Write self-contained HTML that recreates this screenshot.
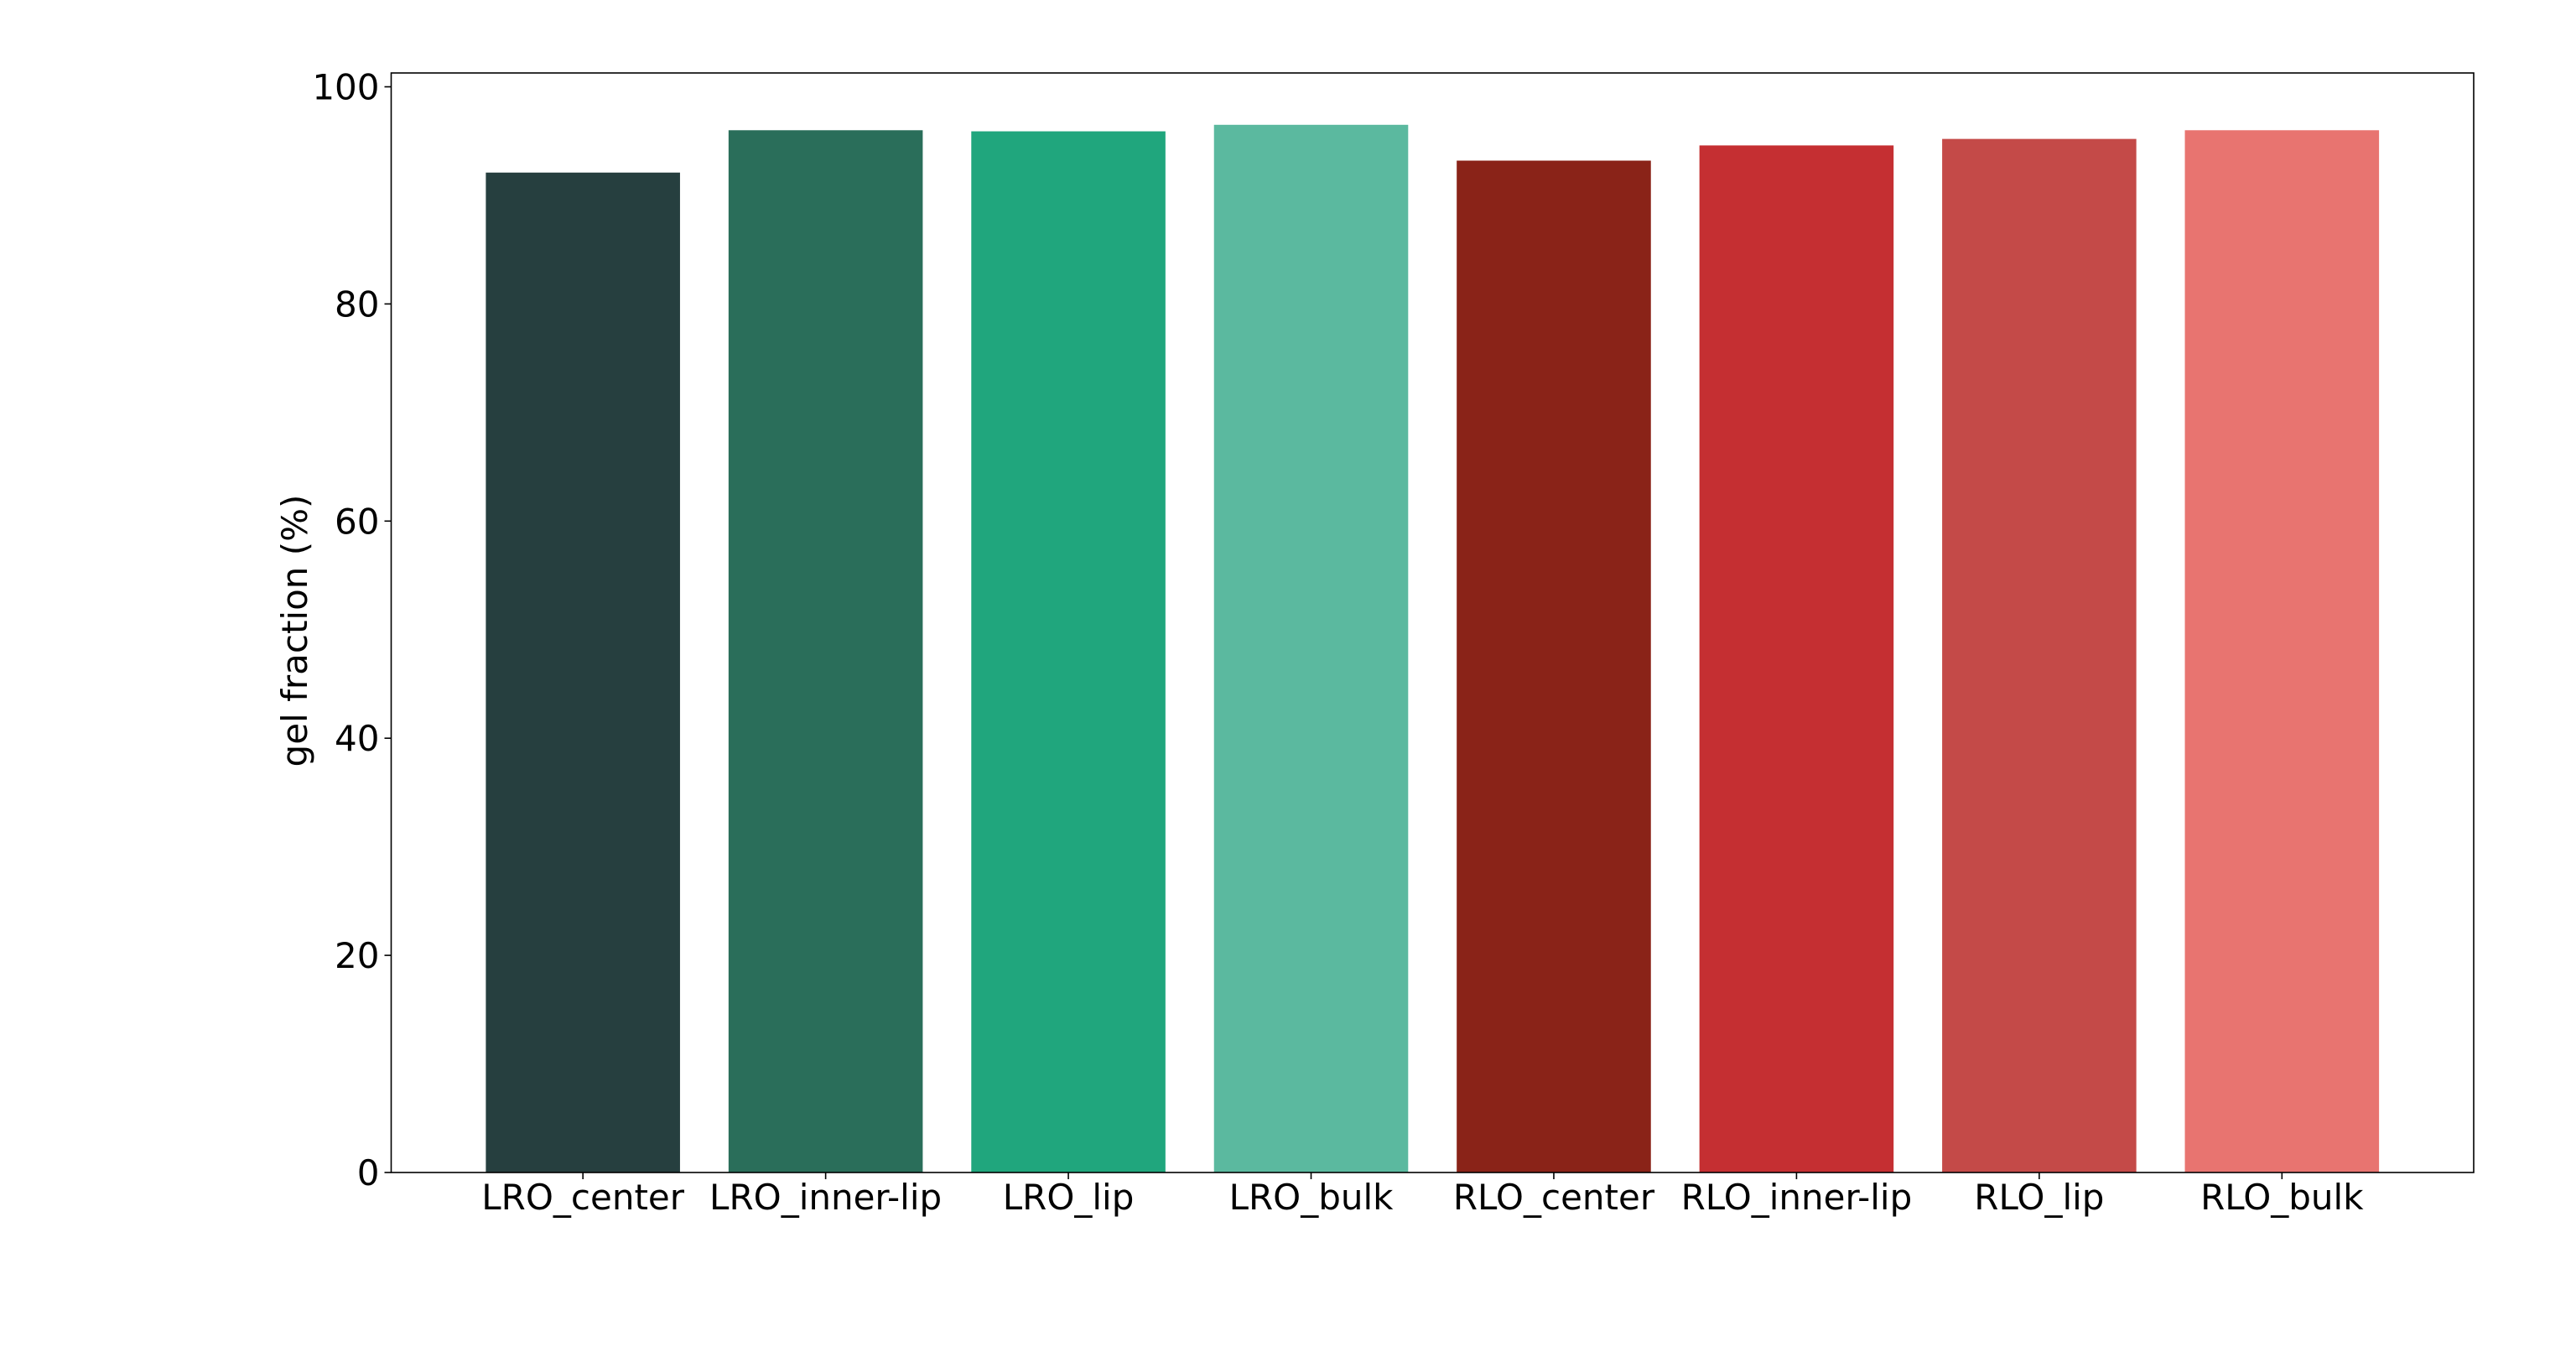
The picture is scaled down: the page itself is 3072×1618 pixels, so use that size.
<!DOCTYPE html>
<html><head><meta charset="utf-8"><style>
html,body{margin:0;padding:0;background:#fff;}
svg{display:block;}
text{font-family:"DejaVu Sans","Liberation Sans",sans-serif;fill:#000;}
</style></head><body>
<svg id="chart" width="3072" height="1618" xmlns="http://www.w3.org/2000/svg">
<rect width="3072" height="1618" fill="#fff"/>
<g id="bars"></g>
<g id="axes"></g>
<text transform="translate(366,752) rotate(-90)" text-anchor="middle" font-size="42">gel fraction (%)</text>
</svg>
<script>
const categories = ["LRO_center","LRO_inner-lip","LRO_lip","LRO_bulk","RLO_center","RLO_inner-lip","RLO_lip","RLO_bulk"];
const values = [92.1, 96.0, 95.9, 96.5, 93.2, 94.6, 95.2, 96.0];
const colors = ["#263f3f","#2a6e5a","#20a67d","#5bb99f","#8a2318","#c52f32","#c44a48","#e87470"];
const yTicks = [0, 20, 40, 60, 80, 100];

const NS = "http://www.w3.org/2000/svg";
const L = 466.5, R = 2950, T = 87, B = 1398;
const xMin = -0.79, xMax = categories.length - 1 + 0.79;
const yScale = v => B - v * (B - 103.5) / 100;
const xScale = i => L + (i - xMin) * (R - L) / (xMax - xMin);
const bw = 0.8 * (R - L) / (xMax - xMin);

function mk(tag, attrs, parent) {
  const e = document.createElementNS(NS, tag);
  for (const k in attrs) e.setAttribute(k, attrs[k]);
  parent.appendChild(e);
  return e;
}
const gb = document.getElementById('bars');
const ga = document.getElementById('axes');

values.forEach((v, i) => {
  const r = mk('rect', {x: xScale(i) - bw / 2, y: yScale(v), width: bw, height: B - yScale(v), fill: colors[i]}, gb);
  
  
});

const frame = mk('rect', {x: L, y: T, width: R - L, height: B - T, fill: 'none', stroke: '#000', 'stroke-width': 1.6}, ga);



yTicks.forEach(t => {
  const y = yScale(t);
  const ln = mk('line', {x1: L - 8, x2: L, y1: y, y2: y, stroke: '#000', 'stroke-width': 1.6}, ga);
  
  
  const tx = mk('text', {x: L - 14, y: y + 15, 'text-anchor': 'end', 'font-size': 42}, ga);
  tx.textContent = t;
  
  
});

categories.forEach((c, i) => {
  const x = xScale(i);
  const ln = mk('line', {x1: x, x2: x, y1: B, y2: B + 8, stroke: '#000', 'stroke-width': 1.6}, ga);
  
  
  const tx = mk('text', {x: x, y: B + 44, 'text-anchor': 'middle', 'font-size': 42}, ga);
  tx.textContent = c;
  
  
});
</script>
</body></html>
